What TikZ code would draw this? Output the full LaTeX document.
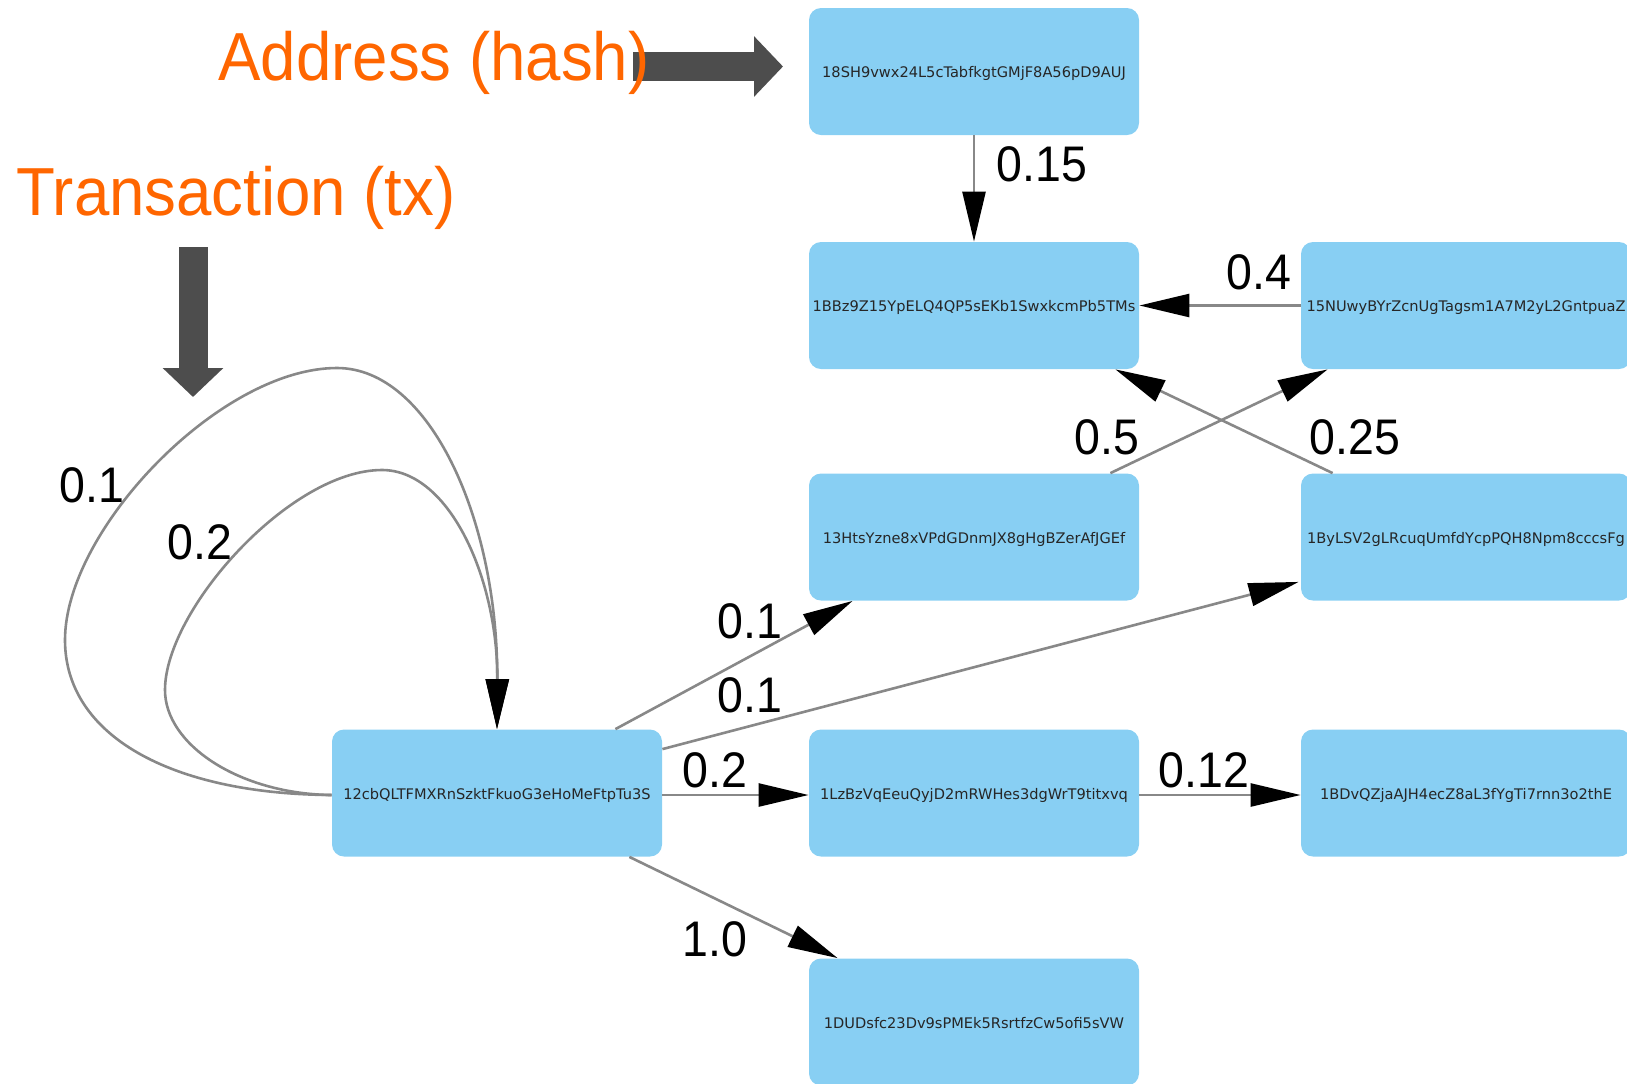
\documentclass[tikz,border=0pt]{standalone}
\usepackage{fontspec}
\setmainfont{Liberation Sans}
\newfontfamily\addrfont{DejaVu Sans}
\usetikzlibrary{arrows.meta,calc}
\definecolor{nodeblue}{RGB}{136,207,243}
\definecolor{edgegray}{RGB}{136,136,136}
\definecolor{bigarrow}{RGB}{77,77,77}
\definecolor{callout}{RGB}{255,102,0}
\newcommand\narrowtext[1]{\scalebox{0.93}[1]{#1}}

\begin{document}
\begin{tikzpicture}[x=0.5pt,y=-0.5pt,
  addr/.style={fill=nodeblue, rounded corners=6pt, minimum width=165pt,
    minimum height=63.5pt, inner sep=0pt, text height=6.3pt, text depth=0pt,
    font=\addrfont\fontsize{7.3}{8}\selectfont, text=black!85},
  flow/.style={draw=edgegray, line width=1.3pt,
    -{Triangle[length=25pt,width=11.5pt,color=black]}},
  wt/.style={font=\fontsize{25}{30}\selectfont, inner sep=0pt},
  callouttext/.style={font=\fontsize{34}{40}\selectfont, text=callout,
    inner sep=0pt, anchor=base west},
  pointer/.style={draw=bigarrow, line width=14.5pt,
    -{Triangle[length=14.5pt,width=29.5pt]}}
]
\clip (0,0) rectangle (1627,1083);

% address nodes
\node[addr] (A) at (974,71.5)  {18SH9vwx24L5cTabfkgtGMjF8A56pD9AUJ};
\node[addr] (B) at (974,305.5) {1BBz9Z15YpELQ4QP5sEKb1SwxkcmPb5TMs};
\node[addr] (C) at (1466,305.5) {15NUwyBYrZcnUgTagsm1A7M2yL2GntpuaZ};
\node[addr] (D) at (974,537)   {13HtsYzne8xVPdGDnmJX8gHgBZerAfJGEf};
\node[addr] (E) at (1466,537)  {1ByLSV2gLRcuqUmfdYcpPQH8Npm8cccsFg};
\node[addr] (F) at (497,793)   {12cbQLTFMXRnSzktFkuoG3eHoMeFtpTu3S};
\node[addr] (G) at (974,793)   {1LzBzVqEeuQyjD2mRWHes3dgWrT9titxvq};
\node[addr] (H) at (1466,793)  {1BDvQZjaAJH4ecZ8aL3fYgTi7rnn3o2thE};
\node[addr] (I) at (974,1022)  {1DUDsfc23Dv9sPMEk5RsrtfzCw5ofi5sVW};

% transactions between addresses
\draw[flow] (A.south) -- (B.north);
\draw[flow] (C.west) -- (B.east);
\draw[flow] ($(D.north east)+(-29,0)$) -- ($(C.south west)+(27,0)$);
\draw[flow] ($(E.north west)+(32,0)$) -- ($(B.south east)+(-24,0)$);
\draw[flow] ($(F.north east)+(-47,0)$) -- ($(D.south west)+(44,0)$);
\draw[flow] ($(F.north east)+(0,20)$) -- ($(E.south west)+(-2,-19)$);
\draw[flow] ($(F.east)+(0,2)$) -- ($(G.west)+(0,2)$);
\draw[flow] ($(G.east)+(0,2)$) -- ($(H.west)+(0,2)$);
\draw[flow] ($(F.south east)+(-33,0)$) -- ($(I.north west)+(29,0)$);

% self transactions
\draw[flow] ($(F.west)+(0,2)$) .. controls (170,794) and (65,735) .. (65,640)
  .. controls (65,530) and (220,368) .. (337,368)
  .. controls (430,368) and (498,520) .. (F.north);
\draw[flow] ($(F.west)+(0,2)$) .. controls (240,794) and (165,745) .. (165,690)
  .. controls (165,610) and (290,470) .. (382,470)
  .. controls (450,470) and (498,580) .. (F.north);

% weights
\node[wt] (w1) at (1042,164) {\narrowtext{0.15}};
\node[wt] (w2) at (1259,272) {\narrowtext{0.4}};
\node[wt] (w3) at (1107,437) {\narrowtext{0.5}};
\node[wt] (w4) at (1355,437) {\narrowtext{0.25}};
\node[wt] (w5) at (750,621)  {\narrowtext{0.1}};
\node[wt] (w6) at (750,695)  {\narrowtext{0.1}};
\node[wt] (w7) at (715,770)  {\narrowtext{0.2}};
\node[wt] (w8) at (1204,770) {\narrowtext{0.12}};
\node[wt] (w9) at (715,939)  {\narrowtext{1.0}};
\node[wt] (w10) at (92,485)  {\narrowtext{0.1}};
\node[wt] (w11) at (200,542) {\narrowtext{0.2}};

% legend pointers
\coordinate (hashfrom) at (633,66.5);
\coordinate (hashto) at (783,66.5);
\coordinate (txfrom) at (193,247);
\coordinate (txto) at (193,397);
\draw[pointer] (hashfrom) -- (hashto);
\draw[pointer] (txfrom) -- (txto);

\node[callouttext] (hashlbl) at (218,80) {\scalebox{0.935}[1]{Address (hash)}};
\node[callouttext] (txlbl) at (16,215) {\scalebox{0.935}[1]{Transaction (tx)}};
\end{tikzpicture}
\end{document}
